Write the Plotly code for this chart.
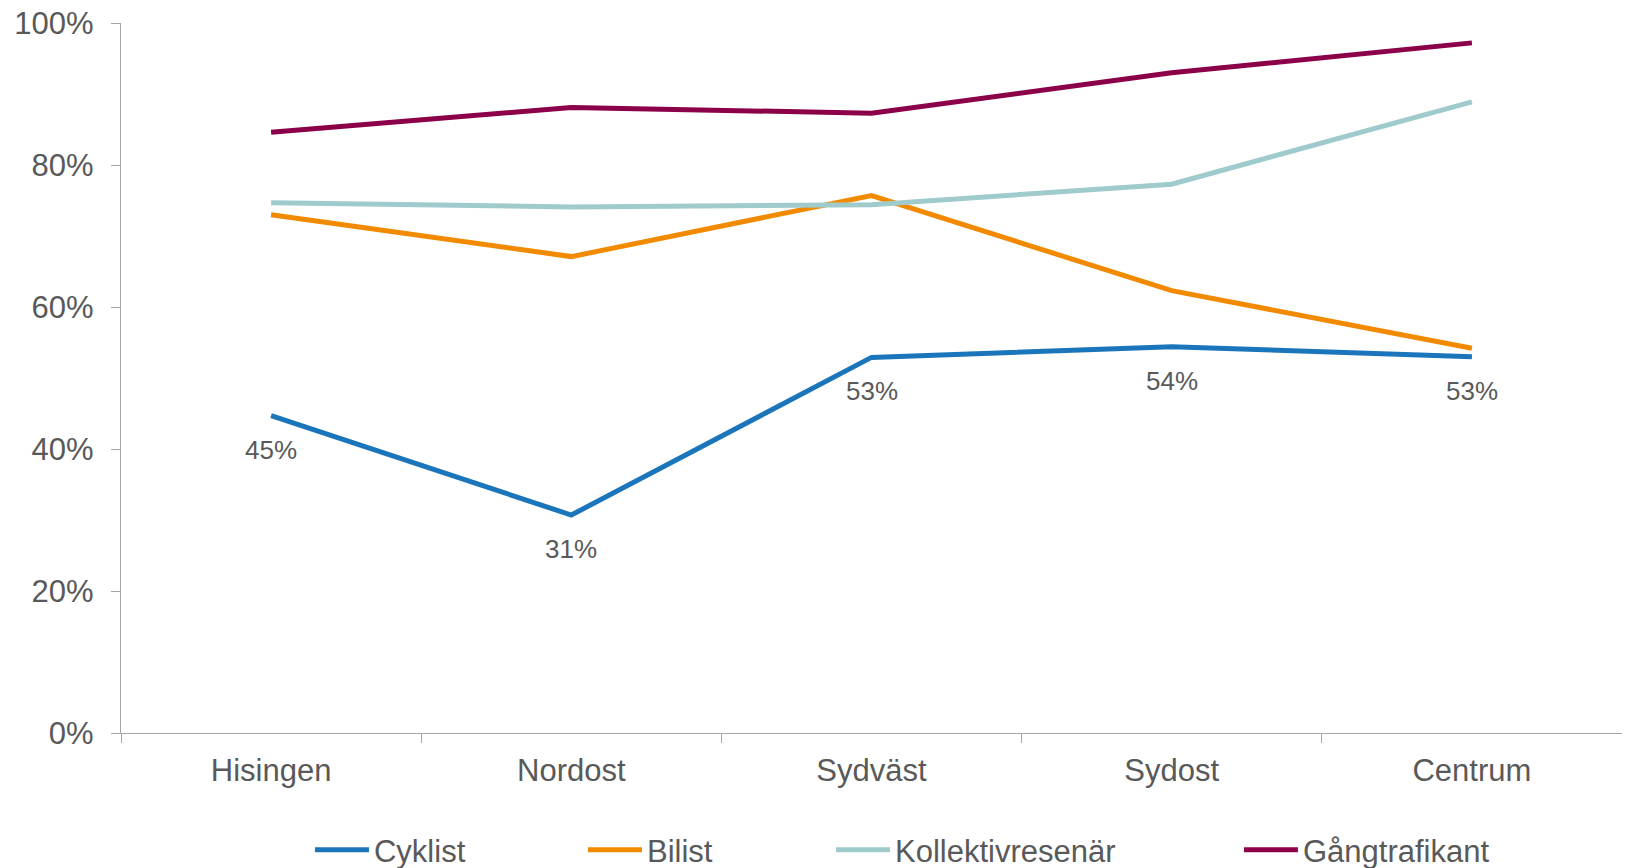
import plotly.graph_objects as go

categories = ["Hisingen", "Nordost", "Sydväst", "Sydost", "Centrum"]
cyklist = [44.7, 30.7, 52.9, 54.4, 53.0]
bilist = [73.0, 67.1, 75.7, 62.3, 54.2]
kollektiv = [74.7, 74.1, 74.4, 77.3, 88.9]
gang = [84.6, 88.1, 87.3, 93.0, 97.2]
cyklist_labels = ["45%", "31%", "53%", "54%", "53%"]
y_tickvals = [0, 20, 40, 60, 80, 100]
y_ticktext = ["0%", "20%", "40%", "60%", "80%", "100%"]

series = [
    ("Cyklist", cyklist, "#1b75bb", "legend"),
    ("Bilist", bilist, "#f28a00", "legend2"),
    ("Kollektivresenär", kollektiv, "#9fcbcc", "legend3"),
    ("Gångtrafikant", gang, "#8c0049", "legend4"),
]

FONT = "Liberation Sans, Arial, sans-serif"
GREY = "#595959"

fig = go.Figure()
for name, vals, color, lg in series:
    fig.add_trace(go.Scatter(
        x=categories, y=vals, name=name, mode="lines",
        line=dict(color=color, width=5),
        legend=lg, hoverinfo="skip", showlegend=True,
    ))

for cat, val, lab in zip(categories, cyklist, cyklist_labels):
    fig.add_annotation(x=cat, y=val, text=lab, showarrow=False,
                       yshift=-34, font=dict(family=FONT, size=26, color=GREY))

legend_common = dict(orientation="h", yanchor="middle", y=-0.165, xanchor="left",
                     font=dict(family=FONT, size=31, color=GREY),
                     bgcolor="rgba(0,0,0,0)", itemwidth=54)
legend_x = [0.1259, 0.3078, 0.4730, 0.7448]

fig.update_layout(
    width=1622, height=860,
    margin=dict(l=113, r=8, t=15, b=135, autoexpand=False),
    paper_bgcolor="white", plot_bgcolor="white",
    showlegend=True,
    font=dict(family=FONT, size=31, color=GREY),
    legend=dict(legend_common, x=legend_x[0]),
    legend2=dict(legend_common, x=legend_x[1]),
    legend3=dict(legend_common, x=legend_x[2]),
    legend4=dict(legend_common, x=legend_x[3]),
    xaxis=dict(
        range=[-0.5, 4.5], showgrid=False, zeroline=False,
        showline=True, linecolor="#a6a6a6", linewidth=1.3,
        ticks="outside", tickson="boundaries", ticklen=9, tickcolor="#a6a6a6",
        tickwidth=1.3, ticklabelstandoff=10,
        tickfont=dict(family=FONT, size=31, color=GREY),
    ),
    yaxis=dict(
        range=[0, 100], showgrid=False, zeroline=False,
        showline=True, linecolor="#a6a6a6", linewidth=1.3,
        ticks="outside", ticklen=9, tickcolor="#a6a6a6", tickwidth=1.3,
        tickmode="array", tickvals=y_tickvals, ticktext=y_ticktext,
        ticklabeloverflow="allow", ticklabelstandoff=11,
        tickfont=dict(family=FONT, size=31, color=GREY),
    ),
)

fig.write_html("out.html")
